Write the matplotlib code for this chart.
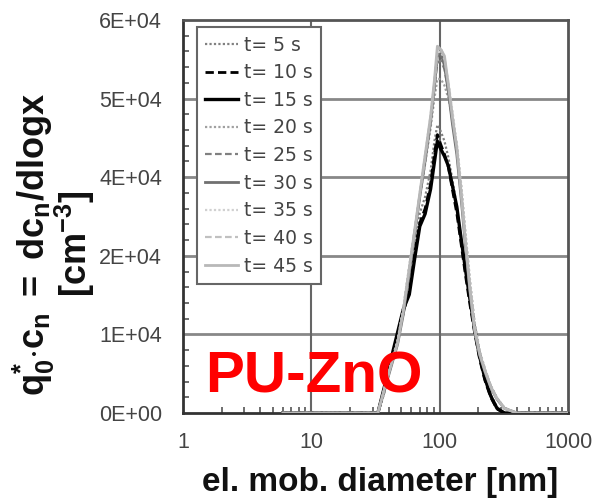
import matplotlib
matplotlib.use("Agg")
import matplotlib.pyplot as plt
from matplotlib.ticker import FixedLocator, NullFormatter

plt.rcParams['font.family'] = ['Liberation Sans', 'DejaVu Sans']
plt.rcParams['mathtext.fontset'] = 'custom'
plt.rcParams['mathtext.rm'] = 'Liberation Sans:bold'
plt.rcParams['mathtext.bf'] = 'Liberation Sans:bold'
plt.rcParams['mathtext.it'] = 'Liberation Sans:bold'
plt.rcParams['mathtext.default'] = 'bf'

# ---- data ----
diam = [6, 30, 33, 37, 42, 47, 52, 58, 64, 70, 77, 85, 91, 96, 102, 109, 117,
        126, 136, 147, 159, 172, 187, 205, 225, 250, 280, 320, 400, 600, 1000]

t5 = [0, 0, 0, 3000, 7400, 11500, 15000, 18800, 25500, 30500, 33000, 37000, 41500, 44000, 43000, 41500,
      39000, 35500, 31500, 26800, 21800, 17200, 12800, 8700, 5500, 2800, 900, 0, 0, 0, 0]
t10 = [0, 0, 0, 3600, 8000, 12000, 15500, 18500, 24500, 29000, 31200, 35000, 39500, 42500, 41000, 39500,
       37500, 34000, 30500, 25800, 21000, 16600, 12300, 8200, 5000, 2400, 600, 0, 0, 0, 0]
t15 = [0, 0, 0, 3900, 8400, 12300, 15800, 18100, 23700, 28500, 30400, 34200, 38300, 41500, 40300, 39200,
       37700, 34600, 31500, 26600, 21850, 17400, 12900, 8600, 5300, 2600, 700, 0, 0, 0, 0]
t20 = [0, 0, 0, 3800, 7800, 11200, 16000, 22500, 28000, 33000, 38000, 43500, 48000, 51000, 51000, 50000,
       48000, 45000, 41000, 35000, 27500, 20500, 14000, 9500, 6800, 4200, 2300, 800, 0, 0, 0]
t25 = [0, 0, 0, 3500, 7400, 10800, 15300, 21800, 27800, 33200, 38800, 44800, 49500, 53500, 53800, 52500,
       49000, 44500, 40000, 33500, 26000, 19200, 13200, 9200, 6600, 4100, 2200, 700, 0, 0, 0]
t30 = [0, 0, 0, 3400, 7200, 10500, 15000, 21500, 27500, 33000, 38500, 44500, 50000, 54500, 55000, 53000,
       49000, 44000, 39500, 32800, 25500, 18600, 12500, 8800, 6300, 3900, 2100, 700, 0, 0, 0]
t35 = [0, 0, 0, 3700, 7600, 11000, 15800, 22300, 28200, 33700, 39500, 45500, 50500, 55000, 55200, 54000,
       50500, 46000, 41000, 34500, 27000, 20000, 13500, 9300, 6700, 4100, 2200, 700, 0, 0, 0]
t40 = [0, 0, 0, 3600, 7500, 10900, 15600, 22000, 28000, 33400, 39000, 45000, 50200, 55500, 55800, 54200,
       50200, 45500, 40500, 34000, 26500, 19500, 13200, 9100, 6500, 4000, 2100, 700, 0, 0, 0]
t45 = [0, 0, 0, 3650, 7500, 10700, 15500, 22100, 28000, 33500, 39300, 45300, 50800, 56000, 55500, 54500,
       50000, 45000, 40500, 33500, 26000, 19000, 12800, 9000, 6500, 4000, 2200, 700, 0, 0, 0]

labels = ["t= 5 s", "t= 10 s", "t= 15 s", "t= 20 s", "t= 25 s", "t= 30 s",
          "t= 35 s", "t= 40 s", "t= 45 s"]
series = [t5, t10, t15, t20, t25, t30, t35, t40, t45]

y_ticks = [0, 12000, 24000, 36000, 48000, 60000]
y_ticklabels = ["0E+00", "1E+04", "2E+04", "4E+04", "5E+04", "6E+04"]
x_ticks = [1, 10, 100, 1000]
x_ticklabels = ["1", "10", "100", "1000"]

# ---- styles ----
styles = [
    dict(color="#808080", ls=(0, (1, 1)), lw=1.6),
    dict(color="#000000", ls=(0, (3, 1.5)), lw=2.0),
    dict(color="#000000", ls="-", lw=2.4),
    dict(color="#a0a0a0", ls=(0, (1, 1)), lw=1.6),
    dict(color="#808080", ls=(0, (3, 1.5)), lw=1.6),
    dict(color="#707070", ls="-", lw=2.0),
    dict(color="#d0d0d0", ls=(0, (1, 1)), lw=1.6),
    dict(color="#c0c0c0", ls=(0, (3, 1.5)), lw=1.6),
    dict(color="#b8b8b8", ls="-", lw=2.0),
]

fig = plt.figure(figsize=(5.94, 4.99), dpi=100)
ax = fig.add_axes([183 / 594, 86 / 499, 385 / 594, 393 / 499])

for y in y_ticks[1:-1]:
    ax.axhline(y, color="#888888", lw=2.0, zorder=1)
for x in x_ticks[1:-1]:
    ax.axvline(x, color="#666666", lw=1.5, zorder=1)

for vals, lab, st in zip(series, labels, styles):
    ax.plot(diam, vals, label=lab, zorder=3, **st)

ax.set_xscale("log")
ax.set_xlim(1, 1000)
ax.set_ylim(0, 60000)

ax.set_xticks(x_ticks)
ax.set_xticklabels(x_ticklabels)
ax.xaxis.set_minor_locator(FixedLocator([m * 10 ** e for e in range(0, 3) for m in range(2, 10)]))
ax.xaxis.set_minor_formatter(NullFormatter())
ax.set_yticks(y_ticks)
ax.set_yticklabels(y_ticklabels)
ax.yaxis.set_minor_locator(FixedLocator([i * 2400 for i in range(1, 25) if i % 5 != 0]))

ax.tick_params(axis="both", which="major", direction="in", length=0, labelsize=15.5,
               labelcolor="#444444")
ax.tick_params(axis="x", which="major", pad=14)
ax.tick_params(axis="y", which="major", pad=15)
ax.tick_params(axis="both", which="minor", direction="in", length=4, width=1.2, color="#555555")

for s in ax.spines.values():
    s.set_color("#555555")
    s.set_linewidth(2)
ax.spines["left"].set_color("#333333")
ax.spines["bottom"].set_color("#333333")

leg = ax.legend(loc="upper left", bbox_to_anchor=(0.036, 0.982), borderaxespad=0,
                prop={"family": "DejaVu Sans", "size": 13.5}, frameon=True, fancybox=False,
                labelspacing=0.46, handlelength=1.75, handletextpad=0.3, borderpad=0.45,
                labelcolor="#444444")
leg.get_frame().set_edgecolor("#666666")
leg.get_frame().set_linewidth(1.5)
leg.get_frame().set_alpha(1)

ax.text(0.057, 0.051, "PU-ZnO", transform=ax.transAxes, color="#ff0000",
        fontsize=42, fontweight="bold", ha="left", va="baseline", zorder=5)

fig.text(380 / 594, 17 / 499, "el. mob. diameter [nm]", fontsize=24, fontweight="bold",
         ha="center", va="center", color="#111111")
fig.text(54 / 594, (499 - 244) / 499,
         r"$q_0^{*}{\cdot}c_n\;=\;dc_n/dlogx$" + "\n" + r"$[cm^{-3}]$",
         rotation=90, fontsize=26, ha="center", va="center", multialignment="center",
         linespacing=0.9, color="#111111")

fig.savefig("out.png", dpi=100)
